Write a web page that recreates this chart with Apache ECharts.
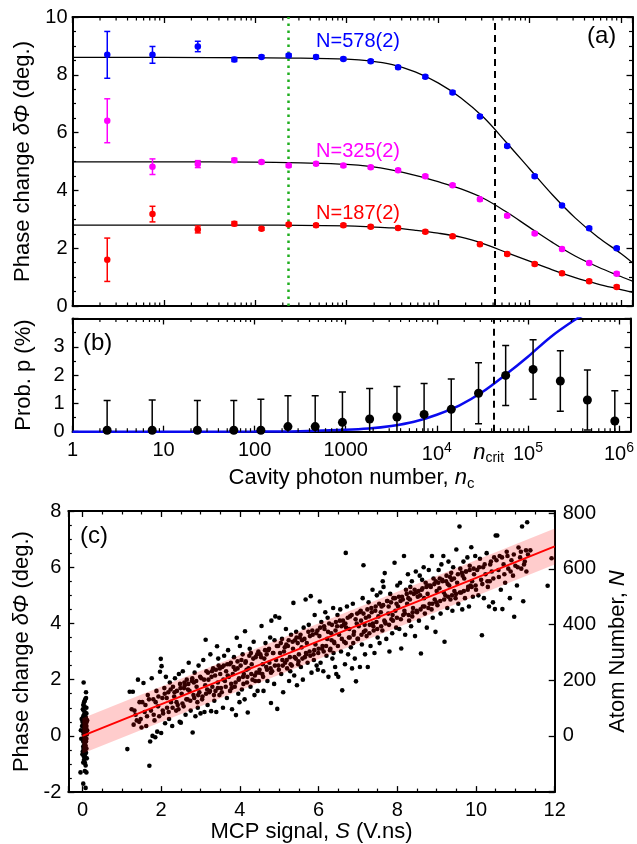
<!DOCTYPE html>
<html>
<head>
<meta charset="utf-8">
<script src="https://cdn.jsdelivr.net/npm/echarts@6/dist/echarts.min.js"></script>
<style>
  html, body { margin: 0; background: #fff; }
  #chart { width: 637px; height: 844px; }
</style>
</head>
<body>
<div id="chart"></div>
<script>
const FONT = '"Liberation Sans", Arial, sans-serif';

// Panel (a) / (b): cavity photon number of each measurement
const photonN = [2.4, 7.5, 23.5, 59, 117, 232, 462, 920, 1830, 3650, 7250, 14400, 28700, 57000, 114000, 227000, 450000, 900000];

// Panel (a): phase change (deg.) for three atom numbers
const phiN578 = [8.69, 8.69, 8.98, 8.53, 8.62, 8.67, 8.62, 8.55, 8.47, 8.26, 7.93, 7.39, 6.56, 5.54, 4.49, 3.48, 2.69, 2.00];
const errN578 = [0.81, 0.29, 0.18, 0.07, 0.05, 0.05, 0.05, 0.05, 0.05, 0.05, 0.05, 0.05, 0.05, 0.05, 0.05, 0.05, 0.05, 0.05];
const phiN325 = [6.41, 4.82, 4.91, 5.04, 4.98, 4.86, 4.92, 4.86, 4.80, 4.70, 4.49, 4.18, 3.69, 3.12, 2.51, 1.97, 1.49, 1.12];
const errN325 = [0.76, 0.27, 0.12, 0.07, 0.05, 0.05, 0.05, 0.05, 0.05, 0.05, 0.05, 0.05, 0.05, 0.05, 0.05, 0.05, 0.05, 0.05];
const phiN187 = [1.60, 3.18, 2.65, 2.85, 2.67, 2.82, 2.79, 2.79, 2.74, 2.70, 2.57, 2.41, 2.14, 1.80, 1.45, 1.13, 0.86, 0.66];
const errN187 = [0.75, 0.27, 0.12, 0.07, 0.05, 0.05, 0.05, 0.05, 0.05, 0.05, 0.05, 0.05, 0.05, 0.05, 0.05, 0.05, 0.05, 0.05];

// Panel (a): fitted curves
const fitX    = [1, 10, 100, 316, 1000, 1780, 3160, 5620, 10000, 17800, 31600, 56200, 100000, 178000, 316000, 562000, 1000000, 1340000];
const fit578  = [8.60, 8.60, 8.59, 8.58, 8.54, 8.48, 8.35, 8.10, 7.72, 7.20, 6.52, 5.65, 4.75, 3.85, 3.05, 2.38, 1.82, 1.50];
const fit325  = [4.99, 4.99, 4.98, 4.95, 4.90, 4.83, 4.70, 4.52, 4.30, 4.05, 3.72, 3.25, 2.72, 2.20, 1.73, 1.35, 1.02, 0.86];
const fit187  = [2.80, 2.80, 2.80, 2.79, 2.77, 2.74, 2.70, 2.62, 2.52, 2.38, 2.15, 1.85, 1.55, 1.25, 0.98, 0.76, 0.57, 0.47];

// Panel (b): probability p (%)
const probP   = [0.05, 0.05, 0.05, 0.05, 0.05, 0.18, 0.18, 0.33, 0.45, 0.52, 0.61, 0.79, 1.36, 1.99, 2.20, 1.79, 1.12, 0.38];
const probErr = [1.05, 1.07, 1.05, 1.05, 1.10, 1.09, 1.09, 1.07, 1.08, 1.08, 1.09, 1.07, 1.08, 1.06, 1.05, 1.07, 1.06, 1.07];
const probFitX = [1, 10, 100, 316, 1000, 1780, 3160, 5620, 10000, 17800, 31600, 56200, 100000, 178000, 316000, 398000];
const probFitY = [0, 0, 0.005, 0.02, 0.065, 0.11, 0.20, 0.35, 0.60, 0.93, 1.40, 2.00, 2.65, 3.35, 3.92, 4.10];

const N_CRIT = 42000;
const N_GREEN = 232;

// Panel (c): MCP signal S (V.ns) vs phase change (deg.)
const mcpPoints = [
  // S ~ 0
  [0.02,0.15],[0.05,-0.3],[0.08,0.45],[-0.02,0.6],[0.1,-0.1],[0.03,0.9],[0.06,1.25],[0.09,1.35],[0.01,-0.55],[0.07,-0.75],
  [0.04,0.3],[0.11,0.05],[-0.04,0.2],[0.06,-0.95],[0.08,0.65],[0.02,-0.2],[0.1,0.35],[0.05,1.05],[0.03,-0.45],[0.09,-0.6],
  [0.0,0.5],[0.07,0.1],[0.12,0.55],[0.04,-0.85],[0.06,0.0],[0.02,1.1],[0.08,-0.35],[0.1,0.8],[-0.03,-0.1],[0.05,0.4],
  [0.07,1.3],[0.09,1.55],[0.03,1.9],[0.06,-1.25],[0.1,-1.3],[-0.05,-1.3],[0.02,-1.7],[0.08,-1.85],[0.11,-0.8],[0.04,0.75],
  [0.0,-0.65],[0.06,0.25],[0.09,-0.2],[0.03,0.05],[0.07,-0.5],[0.12,0.2],[0.05,0.6],[0.01,0.95],[0.08,-1.05],[0.04,-0.15],
  [-0.01,0.35],[0.1,1.0],[0.06,-0.65],[0.02,0.7],[0.09,0.3],
  [0.03,0.42],[0.07,0.55],[0.05,-0.05],[0.09,0.12],[0.02,-0.38],[0.08,0.28],[0.06,-0.25],[0.04,0.52],[0.1,-0.45],[0.01,0.18],
  [0.07,0.7],[0.05,-0.58],[0.09,0.62],[0.03,-0.72],[0.06,0.85],[0.08,-0.12],[0.04,1.2],[0.02,-0.95],[0.1,0.48],[0.06,0.38],
  // S 1.1 - 2
  [1.14,-0.47],[1.2,1.57],[1.28,1.57],[1.25,0.95],[1.3,0.4],[1.35,0.75],[1.41,2.0],[1.38,0.55],[1.45,1.2],[1.5,0.3],
  [1.55,1.88],[1.58,0.85],[1.6,1.1],[1.48,0.6],[1.62,0.35],[1.66,1.45],[1.7,-1.06],[1.72,-0.2],[1.74,0.9],[1.76,2.05],
  [1.78,0.0],[1.8,1.3],[1.83,0.55],[1.85,-0.05],[1.88,1.6],[1.9,0.15],[1.92,1.05],[1.95,0.7],[1.97,2.28],[1.99,2.74],
  [2.0,0.1],[1.86,1.2],
  [1.32,0.9],[1.44,0.5],[1.52,1.2],[1.64,0.7],[1.69,1.3],[1.81,0.75],[1.93,1.4],
  // S 2 - 3
  [2.01,2.48],[2.03,1.35],[2.05,0.8],[2.08,1.7],[2.1,0.45],[2.12,2.1],[2.15,1.0],[2.18,1.55],[2.2,0.6],[2.22,1.9],
  [2.25,1.2],[2.28,0.35],[2.3,1.75],[2.33,1.4],[2.35,2.05],[2.38,0.9],[2.4,1.6],[2.42,1.1],[2.45,2.2],[2.47,0.5],
  [2.5,0.47],[2.48,1.85],[2.52,1.5],[2.55,2.3],[2.57,1.05],[2.6,1.8],[2.62,0.75],[2.65,2.0],[2.67,1.3],[2.7,2.6],
  [2.72,1.6],[2.75,0.9],[2.78,1.95],[2.8,0.12],[2.82,1.45],[2.85,2.25],[2.87,0.7],[2.9,1.75],[2.92,1.2],[2.95,2.5],
  [2.97,1.55],[3.0,0.8],[2.68,1.65],[2.83,1.9],[2.58,1.7],[2.93,1.0],
  [2.04,0.9],[2.09,1.5],[2.14,1.35],[2.19,0.85],[2.24,1.65],[2.29,1.0],[2.34,1.55],[2.39,1.2],[2.44,0.95],[2.49,1.7],
  [2.54,1.15],[2.59,1.9],[2.64,1.3],[2.69,1.85],[2.74,1.25],[2.79,2.05],[2.84,1.35],[2.89,1.95],[2.94,1.45],[2.99,2.1],
  // S 3 - 4
  [3.02,2.05],[3.05,1.4],[3.07,2.7],[3.1,0.85],[3.12,1.8],[3.13,3.42],[3.15,2.3],[3.18,1.1],[3.2,2.0],[3.22,1.55],
  [3.25,2.9],[3.27,0.88],[3.3,1.75],[3.32,2.4],[3.35,1.25],[3.37,2.15],[3.4,0.85],[3.42,3.19],[3.44,1.9],[3.46,2.5],
  [3.48,1.45],[3.5,2.2],[3.17,1.65],[3.28,2.1],[3.38,1.6],[3.45,2.75],[3.52,1.7],[3.55,2.45],[3.57,1.0],[3.6,2.85],
  [3.62,1.95],[3.65,2.3],[3.67,1.35],[3.7,3.05],[3.72,2.1],[3.75,1.6],[3.77,2.6],[3.8,0.95],[3.82,2.2],[3.85,2.8],
  [3.87,1.75],[3.9,0.74],[3.92,3.49],[3.94,2.4],[3.96,1.5],[3.98,2.05],[4.0,3.2],[3.58,2.0],[3.68,2.55],[3.78,1.85],
  [3.88,2.35],[3.99,1.2],
  [3.04,1.3],[3.09,2.0],[3.14,1.5],[3.19,2.25],[3.24,1.6],[3.29,2.3],[3.34,1.45],[3.39,2.35],[3.44,1.7],[3.49,2.4],
  [3.54,1.55],[3.59,2.5],[3.64,1.75],[3.69,2.15],[3.74,2.55],[3.79,1.7],[3.84,2.45],[3.89,1.9],[3.94,2.65],[3.97,2.0],
  // S 4 - 5
  [4.02,2.5],[4.05,1.65],[4.07,2.9],[4.1,2.2],[4.12,1.3],[4.13,3.72],[4.15,2.65],[4.18,1.9],[4.2,0.83],[4.22,2.4],
  [4.25,3.1],[4.27,1.75],[4.3,2.55],[4.32,2.0],[4.35,3.35],[4.37,1.45],[4.4,2.8],[4.42,2.25],[4.45,1.6],[4.47,3.0],
  [4.5,2.35],[4.08,2.1],[4.17,2.35],[4.28,2.95],[4.38,2.15],[4.48,1.95],[4.52,2.9],[4.55,3.91],[4.57,2.2],[4.6,1.6],
  [4.62,2.75],[4.65,3.3],[4.67,2.45],[4.7,1.95],[4.72,3.05],[4.75,2.6],[4.77,3.5],[4.79,1.17],[4.8,4.1],[4.82,2.3],
  [4.85,2.95],[4.87,1.85],[4.9,4.25],[4.92,2.7],[4.95,0.96],[4.97,3.2],[5.0,4.2],[4.58,2.55],[4.68,2.9],[4.78,2.4],
  [4.88,3.4],[4.98,2.5],
  [4.04,2.7],[4.09,1.85],[4.14,2.6],[4.19,2.1],[4.24,2.85],[4.29,2.2],[4.34,2.75],[4.39,1.95],[4.44,2.9],[4.49,2.25],
  [4.54,2.8],[4.59,2.1],[4.64,3.05],[4.69,2.35],[4.74,3.1],[4.79,2.25],[4.84,2.95],[4.89,2.5],[4.94,3.2],[4.99,2.35],
  // S 5 - 6
  [5.02,2.95],[5.05,2.2],[5.07,3.45],[5.1,1.55],[5.12,3.0],[5.15,2.6],[5.17,3.8],[5.2,2.4],[5.22,3.2],[5.25,1.95],
  [5.27,2.8],[5.3,3.6],[5.32,2.5],[5.35,3.1],[5.36,4.73],[5.38,2.15],[5.4,3.4],[5.42,2.75],[5.45,1.8],[5.47,3.3],
  [5.5,2.9],[5.08,2.7],[5.18,3.25],[5.28,2.3],[5.43,3.7],[5.48,2.55],[5.52,3.5],[5.55,2.45],[5.57,3.15],[5.6,2.0],
  [5.62,3.85],[5.65,2.8],[5.67,4.85],[5.7,3.3],[5.72,2.6],[5.75,3.95],[5.77,3.0],[5.8,4.97],[5.82,2.25],[5.85,3.6],
  [5.87,2.9],[5.9,4.3],[5.92,3.25],[5.95,2.5],[5.97,3.75],[6.0,3.1],[6.03,4.78],[5.58,3.4],[5.68,2.95],[5.78,3.55],
  [5.88,2.7],[5.98,2.35],
  [5.04,3.3],[5.09,2.5],[5.14,3.15],[5.19,2.7],[5.24,3.4],[5.29,2.55],[5.34,3.35],[5.39,2.8],[5.44,3.5],[5.49,2.65],
  [5.54,3.6],[5.59,2.75],[5.64,3.45],[5.69,2.9],[5.74,3.7],[5.79,2.85],[5.84,3.75],[5.89,3.05],[5.94,3.65],[5.99,2.95],
  // S 6 - 7
  [6.02,3.55],[6.05,2.6],[6.07,4.05],[6.1,3.2],[6.12,2.3],[6.15,3.8],[6.17,4.4],[6.2,2.85],[6.22,3.45],[6.25,2.1],
  [6.27,4.0],[6.3,3.1],[6.32,3.65],[6.35,2.75],[6.37,4.55],[6.4,3.3],[6.42,2.45],[6.45,2.2],[6.47,3.9],[6.5,2.1],
  [6.13,3.0],[6.23,4.2],[6.33,3.4],[6.43,3.75],[6.48,4.3],[6.38,2.95],[6.52,3.6],[6.55,4.5],[6.57,3.0],[6.6,1.62],
  [6.62,4.1],[6.65,3.35],[6.67,2.55],[6.69,6.51],[6.7,3.85],[6.72,4.6],[6.75,2.9],[6.77,3.5],[6.8,4.25],[6.82,3.15],
  [6.85,2.4],[6.87,4.7],[6.9,3.7],[6.92,2.75],[6.95,1.94],[6.97,4.0],[7.0,3.45],[6.58,3.9],[6.68,4.0],[6.78,3.8],
  [6.88,3.3],[6.98,4.35],
  [6.04,3.85],[6.09,3.1],[6.14,3.9],[6.19,3.2],[6.24,3.7],[6.29,3.05],[6.34,3.95],[6.39,3.35],[6.44,4.05],[6.49,3.2],
  [6.54,4.1],[6.59,3.45],[6.64,3.95],[6.69,3.3],[6.74,4.2],[6.79,3.5],[6.84,4.3],[6.89,3.6],[6.94,4.15],[6.99,3.45],
  // S 7 - 8
  [7.02,3.9],[7.05,2.45],[7.07,4.45],[7.1,3.25],[7.12,4.9],[7.14,6.07],[7.15,3.7],[7.18,2.9],[7.2,4.2],[7.22,3.55],
  [7.25,2.45],[7.27,4.75],[7.3,3.95],[7.32,3.2],[7.35,4.4],[7.37,5.2],[7.4,3.75],[7.42,2.95],[7.45,4.6],[7.47,4.05],
  [7.5,3.5],[7.08,4.1],[7.17,3.95],[7.28,4.25],[7.38,4.0],[7.48,5.0],[7.52,4.25],[7.55,3.3],[7.57,5.1],[7.6,4.6],
  [7.62,3.75],[7.65,5.3],[7.68,5.79],[7.7,4.0],[7.72,3.45],[7.75,4.8],[7.77,4.35],[7.8,3.0],[7.82,5.05],[7.85,4.15],
  [7.87,3.65],[7.9,4.9],[7.93,6.16],[7.95,4.45],[7.97,3.85],[8.0,5.35],[7.58,4.4],[7.67,4.1],[7.78,4.6],[7.88,4.3],
  [7.98,4.7],[7.63,5.5],
  [7.04,4.4],[7.09,3.6],[7.14,4.35],[7.19,3.75],[7.24,4.5],[7.29,3.65],[7.34,4.55],[7.39,3.9],[7.44,4.45],[7.49,3.8],
  [7.54,4.7],[7.59,3.9],[7.64,4.65],[7.69,4.05],[7.74,4.8],[7.79,3.95],[7.84,4.75],[7.89,4.1],[7.94,4.9],[7.99,4.2],
  // S 8 - 9
  [8.02,4.6],[8.05,3.8],[8.07,5.45],[8.1,3.11],[8.12,4.95],[8.15,4.3],[8.17,6.4],[8.2,3.6],[8.22,5.2],[8.25,4.7],
  [8.27,5.75],[8.3,4.1],[8.32,4.85],[8.35,3.9],[8.37,5.5],[8.4,4.55],[8.42,5.05],[8.45,3.55],[8.47,5.85],[8.5,4.4],
  [8.08,4.8],[8.18,4.45],[8.28,4.9],[8.38,4.25],[8.48,5.1],[8.33,5.3],[8.52,4.95],[8.55,4.1],[8.57,5.7],[8.6,2.93],
  [8.62,5.2],[8.65,4.6],[8.67,6.0],[8.7,4.35],[8.72,5.45],[8.75,3.85],[8.77,5.05],[8.8,5.9],[8.82,4.7],[8.85,5.3],
  [8.88,6.4],[8.9,4.2],[8.92,5.6],[8.95,4.85],[8.97,3.7],[9.0,5.15],[8.58,5.0],[8.68,4.9],[8.78,5.35],[8.87,4.5],
  [8.98,5.5],[8.63,5.55],
  [8.04,4.95],[8.09,4.15],[8.14,4.85],[8.19,4.35],[8.24,5.05],[8.29,4.3],[8.34,5.1],[8.39,4.4],[8.44,5.2],[8.49,4.45],
  [8.54,5.15],[8.59,4.5],[8.64,5.25],[8.69,4.6],[8.74,5.3],[8.79,4.55],[8.84,5.35],[8.89,4.7],[8.94,5.4],[8.99,4.75],
  // S 9 - 10
  [9.02,4.65],[9.05,5.9],[9.07,5.25],[9.1,4.35],[9.12,6.1],[9.15,5.5],[9.17,6.4],[9.2,3.35],[9.22,5.0],[9.25,5.7],
  [9.27,4.55],[9.3,6.2],[9.32,5.35],[9.35,4.85],[9.37,5.8],[9.4,4.45],[9.42,6.0],[9.45,5.15],[9.48,4.9],[9.5,6.63],
  [9.08,5.6],[9.18,5.1],[9.28,5.4],[9.38,5.55],[9.52,5.45],[9.55,4.7],[9.58,7.45],[9.6,5.95],[9.62,5.1],[9.65,4.5],
  [9.68,6.2],[9.7,5.6],[9.72,4.9],[9.75,5.85],[9.78,6.35],[9.8,5.3],[9.82,4.6],[9.84,6.05],[9.88,6.71],[9.9,5.5],
  [9.92,4.95],[9.95,5.75],[9.98,6.4],[10.0,5.2],[9.66,5.7],[9.86,5.35],
  [9.04,5.45],[9.09,4.8],[9.14,5.55],[9.19,4.85],[9.24,5.5],[9.29,4.95],[9.34,5.65],[9.39,5.0],[9.44,5.6],[9.49,5.05],
  [9.54,5.75],[9.59,5.1],[9.64,5.8],[9.69,5.15],[9.74,5.85],[9.79,5.2],[9.84,5.9],[9.89,5.3],[9.94,5.95],[9.99,5.35],
  // S 10 - 12
  [10.03,5.9],[10.06,5.0],[10.1,6.3],[10.13,5.55],[10.15,3.58],[10.18,6.0],[10.2,4.9],[10.24,5.75],[10.27,6.5],[10.3,5.3],
  [10.33,4.6],[10.36,6.1],[10.4,5.85],[10.43,4.75],[10.46,6.35],[10.48,4.51],[10.5,7.13],[10.35,5.5],[10.54,7.13],[10.57,5.9],
  [10.6,6.4],[10.63,5.2],[10.67,4.51],[10.7,6.1],[10.74,5.45],[10.78,6.55],[10.82,5.95],[10.86,4.9],[10.9,6.25],[10.94,5.7],
  [10.97,4.24],[11.0,6.05],[11.04,5.35],[11.08,6.7],[11.12,6.35],[11.17,7.45],[11.2,4.79],[11.24,6.2],[11.28,5.85],[11.32,6.45],
  [11.38,6.6],[11.82,5.34],[11.92,6.32],[11.15,5.95],[11.3,7.6],
  [10.08,6.0],[10.16,5.4],[10.22,6.1],[10.29,5.5],[10.38,6.2],[10.44,5.6],[10.52,6.25],[10.58,5.65],[10.66,6.35],[10.72,5.75],
  [10.8,6.4],[10.88,5.85],[10.96,6.45],[11.06,6.0],[11.14,6.55],[11.22,6.1],[11.27,6.6]
];

// Panel (c): linear fit and its confidence band
const fitS     = [0, 12];
const fitPhi   = [0, 6.74];
const bandLow  = [-0.63, 6.10];
const bandHigh = [0.63, 7.38];

// Minor tick positions of the log axis (2..9 per decade)
const logMinor = [];
for (let k = 0; k <= 5; k++) for (let m = 2; m <= 9; m++) logMinor.push(m * Math.pow(10, k));

// ---------- helpers ----------
const pairs = (xs, ys) => xs.map((x, i) => [x, ys[i]]);
const errRows = (xs, ys, es) => xs.map((x, i) => [x, ys[i] - es[i], ys[i] + es[i]]);

function errorBars(color, cap, width) {
    return function (params, api) {
        const x = api.value(0);
        const lo = api.coord([x, api.value(1)]);
        const hi = api.coord([x, api.value(2)]);
        const st = { stroke: color, lineWidth: width };
        return {
            type: 'group',
            children: [
                { type: 'line', shape: { x1: lo[0], y1: lo[1], x2: hi[0], y2: hi[1] }, style: st },
                { type: 'line', shape: { x1: hi[0] - cap, y1: hi[1], x2: hi[0] + cap, y2: hi[1] }, style: st },
                { type: 'line', shape: { x1: lo[0] - cap, y1: lo[1], x2: lo[0] + cap, y2: lo[1] }, style: st }
            ]
        };
    };
}

function logMinorSeries(xi, yi, yLo, yHi) {
    return {
        type: 'custom', xAxisIndex: xi, yAxisIndex: yi, silent: true, z: 5,
        data: logMinor.map(v => [v, yLo]),
        renderItem: (params, api) => {
            const b = api.coord([api.value(0), yLo]);
            const t = api.coord([api.value(0), yHi]);
            const st = { stroke: '#000', lineWidth: 1.2 };
            return {
                type: 'group',
                children: [
                    { type: 'line', shape: { x1: b[0], y1: b[1], x2: b[0], y2: b[1] - 3.5 }, style: st },
                    { type: 'line', shape: { x1: t[0], y1: t[1], x2: t[0], y2: t[1] + 3.5 }, style: st }
                ]
            };
        }
    };
}

const axisLine = { show: true, onZero: false, lineStyle: { color: '#000', width: 2 } };
const tickIn = { show: true, inside: true, length: 6, lineStyle: { color: '#000', width: 1.3 } };
const minorIn = n => ({ show: true, splitNumber: n, length: 3.5, lineStyle: { color: '#000', width: 1.2 } });
const lbl = { color: '#000', fontSize: 20, fontFamily: FONT };
const nameStyle = {
    color: '#000', fontSize: 22, fontFamily: FONT,
    rich: {
        i: { color: '#000', fontSize: 22, fontFamily: FONT, fontStyle: 'italic' },
        s: { color: '#000', fontSize: 15, fontFamily: FONT, padding: [12, 0, 0, 0] }
    }
};

function logLabel(v) {
    const e = Math.round(Math.log10(v));
    if (Math.abs(Math.log10(v) - e) > 1e-6) return '';
    if (e <= 3) return String(Math.pow(10, e));
    return '{b|10}{s|' + e + '}';
}

function logAxis(gridIndex, position, withLabels) {
    const ax = {
        type: 'log', logBase: 10, gridIndex, position, min: 1, max: 1340000,
        axisLine, axisTick: tickIn, splitLine: { show: false },
        axisLabel: { show: false }
    };
    if (withLabels) {
        ax.axisLabel = {
            ...lbl, margin: 9, showMaxLabel: false, formatter: logLabel,
            rich: {
                b: { color: '#000', fontSize: 20, fontFamily: FONT },
                s: { color: '#000', fontSize: 14, fontFamily: FONT, padding: [0, 0, 13, 0] }
            }
        };
    }
    return ax;
}

function valAxis(extra) {
    return Object.assign({
        type: 'value', axisLine, axisTick: tickIn, splitLine: { show: false },
        axisLabel: { show: false }
    }, extra);
}

function fitLine(id, xs, ys, color, width) {
    return {
        id, type: 'line', xAxisIndex: 0, yAxisIndex: 0, data: pairs(xs, ys),
        smooth: 0.35, showSymbol: false, lineStyle: { color, width }, z: 3
    };
}

// ---------- chart ----------
const chart = echarts.init(document.getElementById('chart'), null, { renderer: 'canvas' });

const fitA = fitLine('fit578', fitX, fit578, '#000', 1.3);
fitA.markLine = {
    silent: true, symbol: 'none', label: { show: false },
    data: [
        { xAxis: N_CRIT, lineStyle: { color: '#000', width: 2, type: [7, 5] } },
        { xAxis: N_GREEN, lineStyle: { color: '#1fae1f', width: 2.5, type: [2.5, 4.5] } }
    ]
};
const fitB = fitLine('probFit', probFitX, probFitY, '#0a0aee', 2.5);
fitB.xAxisIndex = 2;
fitB.yAxisIndex = 2;
fitB.markLine = {
    silent: true, symbol: 'none', label: { show: false },
    data: [{ xAxis: N_CRIT, lineStyle: { color: '#000', width: 2, type: [7, 5] } }]
};

const option = {
    backgroundColor: '#fff',
    animation: false,
    grid: [
        { left: 72.5, top: 17, width: 560, height: 289 },
        { left: 72.5, top: 318.5, width: 560, height: 113.2 },
        { left: 68.3, top: 511, width: 495, height: 284.3 }
    ],
    xAxis: [
        logAxis(0, 'bottom', false),
        logAxis(0, 'top', false),
        Object.assign(logAxis(1, 'bottom', true), {
            name: 'Cavity photon number, {i|n}{s|c}', nameLocation: 'middle', nameGap: 33, nameTextStyle: nameStyle
        }),
        logAxis(1, 'top', false),
        valAxis({
            gridIndex: 2, position: 'bottom', min: -0.36, max: 12, splitNumber: 6, minorTick: minorIn(4),
            axisLabel: { ...lbl, margin: 8, formatter: v => (Math.abs(v % 2) < 1e-9 ? String(v) : '') },
            name: 'MCP signal, {i|S} (V.ns)', nameLocation: 'middle', nameGap: 24, nameTextStyle: nameStyle
        }),
        valAxis({ gridIndex: 2, position: 'top', min: -0.36, max: 12, splitNumber: 6, minorTick: minorIn(4) })
    ],
    yAxis: [
        valAxis({
            gridIndex: 0, position: 'left', min: 0, max: 10, interval: 2, minorTick: minorIn(4),
            axisLabel: { ...lbl, margin: 5 },
            name: 'Phase change {i|δΦ} (deg.)', nameLocation: 'middle', nameGap: 33, nameTextStyle: nameStyle
        }),
        valAxis({ gridIndex: 0, position: 'right', min: 0, max: 10, interval: 2, minorTick: minorIn(4) }),
        valAxis({
            gridIndex: 1, position: 'left', min: 0, max: 4, interval: 1, minorTick: minorIn(2),
            axisLabel: { ...lbl, margin: 8, formatter: v => (v === 4 ? '' : String(v)) },
            name: 'Prob. p (%)', nameLocation: 'middle', nameGap: 38, nameTextStyle: nameStyle
        }),
        valAxis({ gridIndex: 1, position: 'right', min: 0, max: 4, interval: 1, minorTick: minorIn(2) }),
        valAxis({
            gridIndex: 2, position: 'left', min: -2, max: 8, interval: 2, minorTick: minorIn(4),
            axisLabel: { ...lbl, margin: 7 },
            name: 'Phase change {i|δΦ} (deg.)', nameLocation: 'middle', nameGap: 34, nameTextStyle: nameStyle
        }),
        valAxis({
            gridIndex: 2, position: 'right', min: -202, max: 808, splitNumber: 5,
            axisLabel: { ...lbl, margin: 8, formatter: v => (v >= 0 && v % 200 === 0 ? String(v) : '') },
            name: 'Atom Number, {i|N}', nameLocation: 'middle', nameGap: 40, nameTextStyle: nameStyle
        })
    ],
    series: [
        // ----- panel (a) -----
        fitA,
        fitLine('fit325', fitX, fit325, '#000', 1.3),
        fitLine('fit187', fitX, fit187, '#000', 1.3),
        { type: 'custom', xAxisIndex: 0, yAxisIndex: 0, data: errRows(photonN, phiN578, errN578), renderItem: errorBars('#0000ff', 3, 1.5), z: 4 },
        { type: 'custom', xAxisIndex: 0, yAxisIndex: 0, data: errRows(photonN, phiN325, errN325), renderItem: errorBars('#ff00ff', 3, 1.5), z: 4 },
        { type: 'custom', xAxisIndex: 0, yAxisIndex: 0, data: errRows(photonN, phiN187, errN187), renderItem: errorBars('#ff0000', 3, 1.5), z: 4 },
        { type: 'scatter', xAxisIndex: 0, yAxisIndex: 0, data: pairs(photonN, phiN578), symbolSize: 6.5, itemStyle: { color: '#0000ff', opacity: 1 }, z: 5 },
        { type: 'scatter', xAxisIndex: 0, yAxisIndex: 0, data: pairs(photonN, phiN325), symbolSize: 6.5, itemStyle: { color: '#ff00ff', opacity: 1 }, z: 5 },
        { type: 'scatter', xAxisIndex: 0, yAxisIndex: 0, data: pairs(photonN, phiN187), symbolSize: 6.5, itemStyle: { color: '#ff0000', opacity: 1 }, z: 5 },
        logMinorSeries(0, 0, 0, 10),

        // ----- panel (b) -----
        fitB,
        { type: 'custom', xAxisIndex: 2, yAxisIndex: 2, clip: true, data: errRows(photonN, probP, probErr), renderItem: errorBars('#000', 3.5, 1.5), z: 4 },
        { type: 'scatter', xAxisIndex: 2, yAxisIndex: 2, data: pairs(photonN, probP), symbolSize: 9, itemStyle: { color: '#000', opacity: 1 }, z: 5 },
        logMinorSeries(2, 2, 0, 4),

        // ----- panel (c) -----
        { id: 'mcp', type: 'scatter', xAxisIndex: 4, yAxisIndex: 4, data: mcpPoints, symbolSize: 4.6, itemStyle: { color: '#000', opacity: 1 }, z: 2 },
        {
            type: 'custom', xAxisIndex: 4, yAxisIndex: 4, silent: true, z: 3, data: [[fitS[0], bandLow[0]]],
            renderItem: (params, api) => {
                const pts = [
                    api.coord([fitS[0], bandLow[0]]), api.coord([fitS[1], bandLow[1]]),
                    api.coord([fitS[1], bandHigh[1]]), api.coord([fitS[0], bandHigh[0]])
                ];
                return { type: 'polygon', shape: { points: pts }, style: { fill: 'rgba(255,0,0,0.2)' } };
            }
        },
        { type: 'line', xAxisIndex: 4, yAxisIndex: 4, data: pairs(fitS, fitPhi), showSymbol: false, lineStyle: { color: '#ff0000', width: 2 }, z: 4 }
    ]
};

chart.setOption(option);

// annotations placed from data coordinates
const px = (id, x, y) => chart.convertToPixel({ seriesId: id }, [x, y]);
const txt = (pos, text, color, size, align) => ({
    type: 'text', x: pos[0], y: pos[1], z: 10,
    style: { text, fill: color, fontSize: size, fontFamily: FONT, align: align || 'left', verticalAlign: 'middle' }
});
const ncrit = px('probFit', N_CRIT, 0);

chart.setOption({
    graphic: [
        txt(px('fit578', 462, 9.14), 'N=578(2)', '#0000ff', 20),
        txt(px('fit578', 462, 5.33), 'N=325(2)', '#ff00ff', 20),
        txt(px('fit578', 462, 3.20), 'N=187(2)', '#ff0000', 20),
        txt([587, 36], '(a)', '#000', 24),
        txt([83, 343], '(b)', '#000', 24),
        txt([80, 536], '(c)', '#000', 24),
        {
            type: 'text', x: ncrit[0] - 5, y: ncrit[1] + 21, z: 10,
            style: {
                text: '{n|n}{s|crit}', align: 'center', verticalAlign: 'middle',
                rich: {
                    n: { fill: '#000', fontSize: 22, fontFamily: FONT, fontStyle: 'italic' },
                    s: { fill: '#000', fontSize: 14, fontFamily: FONT, padding: [10, 0, 0, 0] }
                }
            }
        }
    ]
});
</script>
</body>
</html>
